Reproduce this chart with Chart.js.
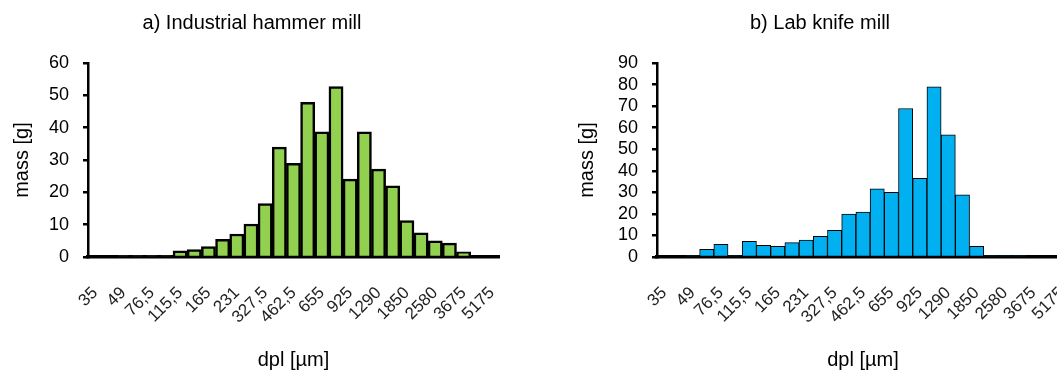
<!DOCTYPE html>
<html>
<head>
<meta charset="utf-8">
<script src="https://cdn.jsdelivr.net/npm/chart.js@4/dist/chart.umd.min.js"></script>
<style>
  html, body { margin: 0; padding: 0; background: #fff; overflow: hidden; }
  #wrap { position: relative; width: 1057px; height: 372px; overflow: hidden; }
  #chartA { position: absolute; left: 0; top: 0; }
  #chartB { position: absolute; left: 530px; top: 0; }
</style>
</head>
<body>
<div id="wrap">
  <canvas id="chartA" width="530" height="372"></canvas>
  <canvas id="chartB" width="560" height="372"></canvas>
</div>
<script>
// size classes, only every second one has a label on the axis
var tickLabels = ["35", "49", "76,5", "115,5", "165", "231", "327,5", "462,5",
  "655", "925", "1290", "1850", "2580", "3675", "5175"];

// a) industrial hammer mill, mass [g] per class
var hammerMass = [0, 0, 0.3, 0.3, 0.3, 0.3, 1.9, 2.3, 3.2, 5.5, 7.1, 10.2, 16.5,
  34, 29, 47.8, 38.7, 52.7, 24.1, 38.7, 27.2, 22, 11.3, 7.5, 5, 4.3, 1.6, 0, 0];

// b) lab knife mill, mass [g] per class
var knifeMass = [0, 0, 0.5, 3.6, 5.9, 0.5, 7.3, 5.4, 5.0, 6.7, 7.8, 9.6, 12.4,
  19.9, 20.8, 31.6, 30, 68.9, 36.5, 79, 56.7, 28.8, 5, 0.5, 0.5, 0.5, 0, 0, 0];

// 29 categories: labelled ones with blanks in between
var categories = [];
tickLabels.forEach(function (lab, i) {
  categories.push(lab);
  if (i < tickLabels.length - 1) categories.push("");
});

var FONT = "'Liberation Sans', Arial, sans-serif";

function makeChart(id, title, data, fill, border, yMax, pad, yWidth, yTitlePad) {
  var ctx = document.getElementById(id).getContext("2d");
  return new Chart(ctx, {
    type: "bar",
    data: {
      labels: categories,
      datasets: [
        {
          data: data,
          backgroundColor: fill,
          borderColor: "#000",
          borderWidth: border,
          borderSkipped: "bottom",
          barPercentage: 1,
          categoryPercentage: 1,
        },
      ],
    },
    options: {
      responsive: false,
      animation: false,
      layout: { padding: pad },
      plugins: {
        legend: { display: false },
        tooltip: { enabled: false },
        title: {
          display: true,
          text: title,
          color: "#000",
          font: { family: FONT, size: 20, weight: "normal" },
          padding: { top: 11, bottom: 28 },
        },
      },
      scales: {
        x: {
          afterFit: function (scale) { scale.height = 115; },
          // tick marks hidden, their length only pushes the labels down
          grid: { display: false, drawTicks: true, tickLength: 24 },
          border: { display: true, color: "#000", width: 3.5 },
          ticks: {
            autoSkip: false,
            minRotation: 45,
            maxRotation: 45,
            padding: 2,
            color: "#222",
            font: { family: FONT, size: 17 },
          },
          title: {
            display: true,
            text: "dpl [µm]",
            color: "#000",
            font: { family: FONT, size: 20 },
            padding: { top: 0, bottom: 0 },
          },
        },
        y: {
          min: 0,
          max: yMax,
          afterFit: function (scale) { scale.width = yWidth; },
          grid: {
            display: true,
            drawOnChartArea: false,
            drawTicks: true,
            tickLength: 5,
            color: "#000",
            lineWidth: 2.5,
          },
          border: { display: true, color: "#000", width: 2.5 },
          ticks: {
            stepSize: 10,
            autoSkip: false,
            padding: 14,
            color: "#000",
            font: { family: FONT, size: 18 },
          },
          title: {
            display: true,
            text: "mass [g]",
            color: "#000",
            font: { family: FONT, size: 20 },
            padding: { top: yTitlePad, bottom: 0 },
          },
        },
      },
    },
  });
}

makeChart("chartA", "a) Industrial hammer mill", hammerMass, "#92D050", 2.5, 60,
  { left: 5, right: 31, top: 0, bottom: 0 }, 83, 5);
makeChart("chartB", "b) Lab knife mill", knifeMass, "#00B0F0", 1, 90,
  { left: 41, right: 21, top: 0, bottom: 0 }, 86, 4);
</script>
</body>
</html>
